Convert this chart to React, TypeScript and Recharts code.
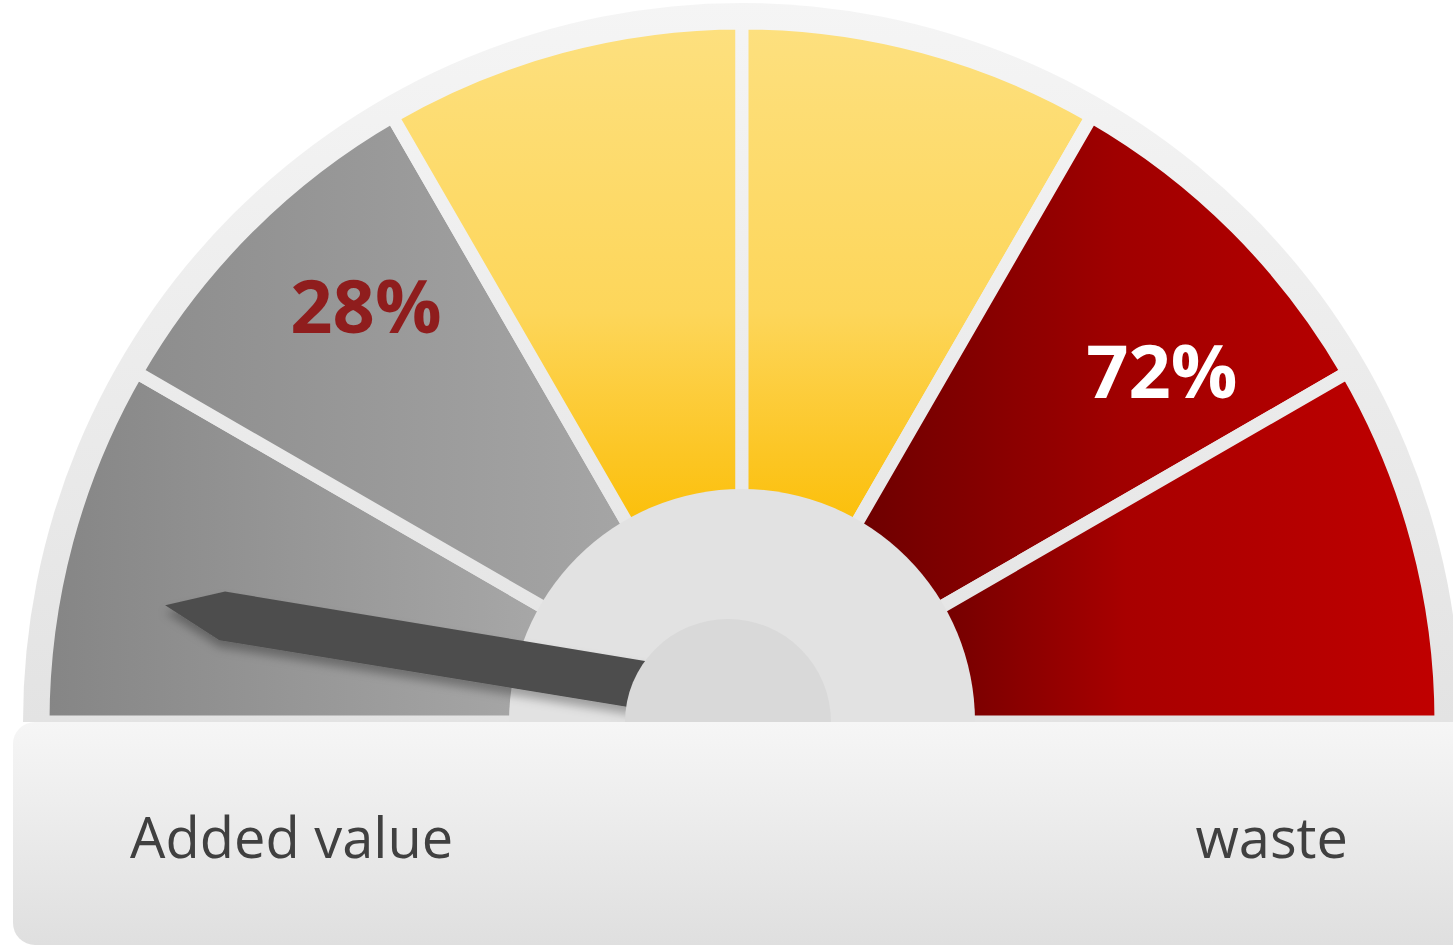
import { PieChart, Pie, Cell, Customized } from "recharts";

// gauge data
const categories = ["Added value", "waste"];
const shares = [28, 72];
const bandNames = ["grey low", "grey high", "yellow low", "yellow high", "red low", "red high"];
const bandSizes = [1, 1, 1, 1, 1, 1];
const needleValue = 5;
const gaugeMax = 100;

const bands = bandNames.map((name, i) => ({ name, value: bandSizes[i] }));
const scale = [{ name: "scale", value: gaugeMax }];

const W = 1453;
const H = 947;
const CX = 742;
const CY = 722;
const RAD = Math.PI / 180;
const FONT = "'Open Sans', sans-serif";

const BAND_FILLS = ["url(#greyA)", "url(#greyB)", "url(#yellow)", "url(#yellow)", "url(#redA)", "url(#redB)"];
// where the two share labels sit (polar, around the gauge centre)
const SHARE_SPOTS = [
    { angle: 132, radius: 562, color: "#8f1d1d" },
    { angle: 40, radius: 548, color: "#ffffff" },
];

const polar = (r: number, deg: number) => [CX + r * Math.cos(deg * RAD), CY - r * Math.sin(deg * RAD)];

const Defs = () => (
    <defs>
        <linearGradient id="ring" gradientUnits="userSpaceOnUse" x1="0" y1="0" x2="0" y2={CY}>
            <stop offset="0%" stopColor="#f5f5f5" />
            <stop offset="100%" stopColor="#e3e3e3" />
        </linearGradient>
        <linearGradient id="greyA" x1="0" y1="0" x2="1" y2="0">
            <stop offset="0%" stopColor="#858585" />
            <stop offset="100%" stopColor="#a9a9a9" />
        </linearGradient>
        <linearGradient id="greyB" x1="0" y1="0" x2="1" y2="0">
            <stop offset="0%" stopColor="#8d8d8d" />
            <stop offset="100%" stopColor="#a6a6a6" />
        </linearGradient>
        <linearGradient id="yellow" x1="0" y1="0" x2="0" y2="1">
            <stop offset="0%" stopColor="#fde07f" />
            <stop offset="55%" stopColor="#fdd65a" />
            <stop offset="82%" stopColor="#fcc624" />
            <stop offset="100%" stopColor="#fbbd00" />
        </linearGradient>
        <linearGradient id="redA" x1="0" y1="0" x2="1" y2="0">
            <stop offset="0%" stopColor="#6a0000" />
            <stop offset="55%" stopColor="#a00000" />
            <stop offset="100%" stopColor="#b60000" />
        </linearGradient>
        <linearGradient id="redB" x1="0" y1="0" x2="1" y2="0">
            <stop offset="0%" stopColor="#6c0000" />
            <stop offset="40%" stopColor="#a80000" />
            <stop offset="100%" stopColor="#c00000" />
        </linearGradient>
        <linearGradient id="panel" x1="0" y1="0" x2="0" y2="1">
            <stop offset="0%" stopColor="#f6f6f6" />
            <stop offset="100%" stopColor="#dfdfdf" />
        </linearGradient>
        <filter id="needleShadow" x="-20%" y="-50%" width="140%" height="250%">
            <feDropShadow dx="0" dy="7" stdDeviation="5" floodColor="#000" floodOpacity="0.3" />
        </filter>
    </defs>
);

// drawn as the hub's label so it lands above every sector
const HubOverlay = () => {
    const angle = 180 - (needleValue / gaugeMax) * 180;
    return (
        <g>
            <g filter="url(#needleShadow)">
                <g transform={`translate(${CX},${CY}) rotate(${-angle})`}>
                    <polygon points="588,25 531,48 90,45 90,-3 529,-1" fill="#4e4e4e" />
                </g>
            </g>
            <circle cx={CX - 14} cy={CY} r={103} fill="#d9d9d9" />

            {shares.map((s, i) => {
                const [x, y] = polar(SHARE_SPOTS[i].radius, SHARE_SPOTS[i].angle);
                return (
                    <text
                        key={`share-${i}`}
                        x={x}
                        y={y}
                        textAnchor="middle"
                        dominantBaseline="central"
                        fontFamily={FONT}
                        fontWeight={700}
                        fontSize={74}
                        fill={SHARE_SPOTS[i].color}
                    >
                        {s}%
                    </text>
                );
            })}

            <rect x={13} y={CY} width={W + 20} height={223} rx={22} ry={22} fill="url(#panel)" />
            <text x={130} y={858} fontFamily={FONT} fontSize={56} fill="#404040">
                {categories[0]}
            </text>
            <text x={1348} y={858} textAnchor="end" fontFamily={FONT} fontSize={56} fill="#404040">
                {categories[1]}
            </text>
        </g>
    );
};

export default function App() {
    return (
        <div style={{ width: W, height: H, background: "#ffffff" }}>
            <style>{"body{margin:0}"}</style>
            <PieChart width={W} height={H} margin={{ top: 0, right: 0, bottom: 0, left: 0 }}>
                <Customized component={Defs} />
                <Pie
                    data={scale}
                    dataKey="value"
                    cx={CX}
                    cy={CY}
                    startAngle={180}
                    endAngle={0}
                    innerRadius={0}
                    outerRadius={719}
                    fill="url(#ring)"
                    stroke="none"
                    isAnimationActive={false}
                />
                <Pie
                    data={bands}
                    dataKey="value"
                    cx={CX}
                    cy={CY}
                    startAngle={180}
                    endAngle={0}
                    innerRadius={200}
                    outerRadius={699}
                    stroke="url(#ring)"
                    strokeWidth={13}
                    isAnimationActive={false}
                >
                    {bands.map((_, index) => (
                        <Cell key={`band-${index}`} fill={BAND_FILLS[index]} />
                    ))}
                </Pie>
                <Pie
                    data={scale}
                    dataKey="value"
                    cx={CX}
                    cy={CY}
                    startAngle={180}
                    endAngle={0}
                    innerRadius={0}
                    outerRadius={233}
                    fill="#e2e2e2"
                    stroke="none"
                    labelLine={false}
                    label={() => <HubOverlay />}
                    isAnimationActive={false}
                />
            </PieChart>
        </div>
    );
}
